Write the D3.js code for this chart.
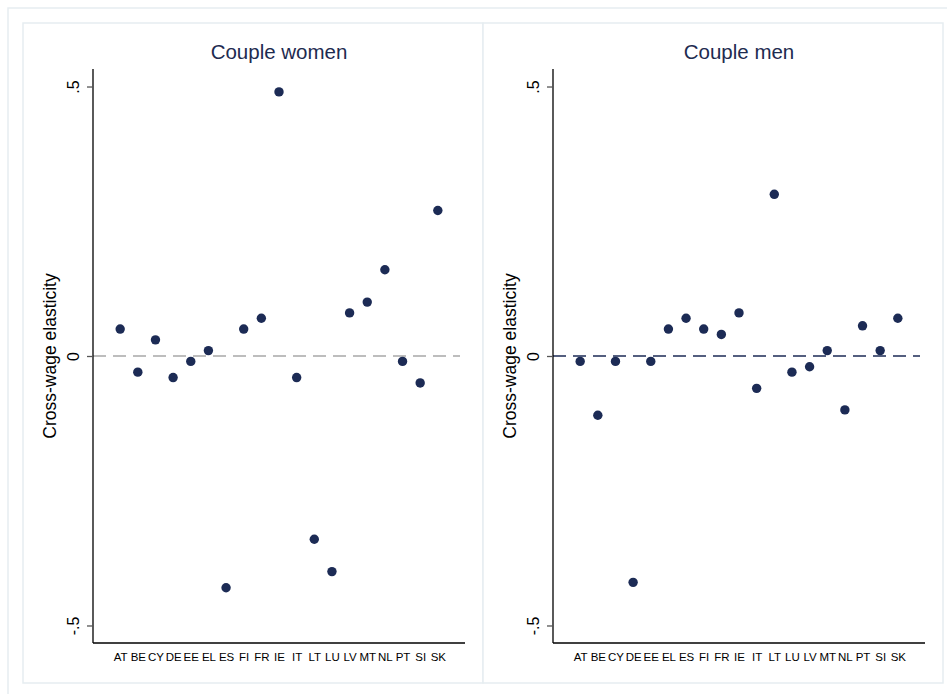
<!DOCTYPE html>
<html>
<head>
<meta charset="utf-8">
<script src="https://cdn.jsdelivr.net/npm/d3@7/dist/d3.min.js"></script>
<style>
  html, body { margin: 0; padding: 0; background: #ffffff; }
  svg { display: block; font-family: "Liberation Sans", Arial, sans-serif; }
</style>
</head>
<body>
<svg id="chart" width="947" height="694"></svg>
<script>
// Countries on the horizontal axis
const countries = ["AT","BE","CY","DE","EE","EL","ES","FI","FR","IE","IT","LT","LU","LV","MT","NL","PT","SI","SK"];

// Cross-wage elasticity estimates by country
const womenValues = [0.05, -0.03, 0.03, -0.04, -0.01, 0.01, -0.43, 0.05, 0.07, 0.49, -0.04, -0.34, -0.40, 0.08, 0.10, 0.16, -0.01, -0.05, 0.27];
const menValues   = [-0.01, -0.11, -0.01, -0.42, -0.01, 0.05, 0.07, 0.05, 0.04, 0.08, -0.06, 0.30, -0.03, -0.02, 0.01, -0.10, 0.056, 0.01, 0.07];

// Panel titles and y-axis ticks
const panelTitles = ["Couple women", "Couple men"];
const yTicks = [-0.5, 0, 0.5];
const yTickLabels = ["-.5", "0", ".5"];
const yAxisTitle = "Cross-wage elasticity";

const svg = d3.select("#chart");
const navy = "#1c2b55";
const frameColor = "#e6edf1";

// outer graph region frame
svg.append("rect")
  .attr("x", 8).attr("y", 8).attr("width", 960).attr("height", 700)
  .attr("fill", "#ffffff").attr("stroke", frameColor).attr("stroke-width", 1.5);

const panelW = 460, panelH = 660;
const plotLeft = 70, plotRight = 442, plotTop = 46, plotBottom = 620;

const panels = [
  { title: panelTitles[0], values: womenValues, refColor: "#a8a8a8" },
  { title: panelTitles[1], values: menValues, refColor: navy }
];

const x = d3.scalePoint().domain(countries).range([plotLeft, plotRight]).padding(1.54);
const y = d3.scaleLinear().domain([-0.5325, 0.5325]).range([plotBottom, plotTop]);

panels.forEach((p, i) => {
  const g = svg.append("g").attr("transform", `translate(${23 + i * panelW},23)`);

  g.append("rect")
    .attr("x", 0).attr("y", 0).attr("width", panelW).attr("height", panelH)
    .attr("fill", "#ffffff").attr("stroke", frameColor).attr("stroke-width", 1.5);

  g.append("text")
    .attr("x", (plotLeft + plotRight) / 2).attr("y", 36)
    .attr("text-anchor", "middle")
    .attr("font-size", 20.5).attr("fill", "#1e2b50")
    .text(p.title);

  // zero reference line
  g.append("line")
    .attr("x1", plotLeft).attr("x2", plotRight - 5)
    .attr("y1", y(0)).attr("y2", y(0))
    .attr("stroke", p.refColor).attr("stroke-width", 1.5)
    .attr("stroke-dasharray", "13,7");

  // y axis
  const yAxis = d3.axisLeft(y).tickValues(yTicks)
    .tickFormat((d, k) => yTickLabels[k]).tickSize(6).tickPadding(0);
  const ya = g.append("g").attr("transform", `translate(${plotLeft},0)`).call(yAxis);
  ya.select(".domain").attr("stroke", "#000").attr("stroke-width", 1.3)
    .attr("d", `M0,${plotTop}V${plotBottom}`);
  ya.selectAll(".tick line").attr("stroke", "#555").attr("stroke-width", 1.3);
  ya.selectAll(".tick text")
    .attr("font-size", 16).attr("fill", "#000")
    .attr("text-anchor", "middle")
    .attr("transform", "translate(-20,0) rotate(-90)")
    .attr("x", 0).attr("y", 0).attr("dy", "0.35em");

  // x axis
  const xAxis = d3.axisBottom(x).tickSize(0).tickPadding(10);
  const xa = g.append("g").attr("transform", `translate(0,${plotBottom})`).call(xAxis);
  xa.select(".domain").attr("stroke", "#000").attr("stroke-width", 1.3)
    .attr("d", `M${plotLeft},0H${plotRight}`);
  xa.selectAll(".tick text").attr("font-size", 11.5).attr("fill", "#000");

  // y axis title
  g.append("text")
    .attr("transform", `translate(33,${y(0)}) rotate(-90)`)
    .attr("text-anchor", "middle")
    .attr("font-size", 17.5).attr("fill", "#000")
    .text(yAxisTitle);

  // points
  g.selectAll("circle.pt")
    .data(countries.map((c, k) => ({ c, v: p.values[k] })))
    .enter().append("circle")
    .attr("class", "pt")
    .attr("cx", d => x(d.c)).attr("cy", d => y(d.v))
    .attr("r", 4.7).attr("fill", navy);
});
</script>
</body>
</html>
